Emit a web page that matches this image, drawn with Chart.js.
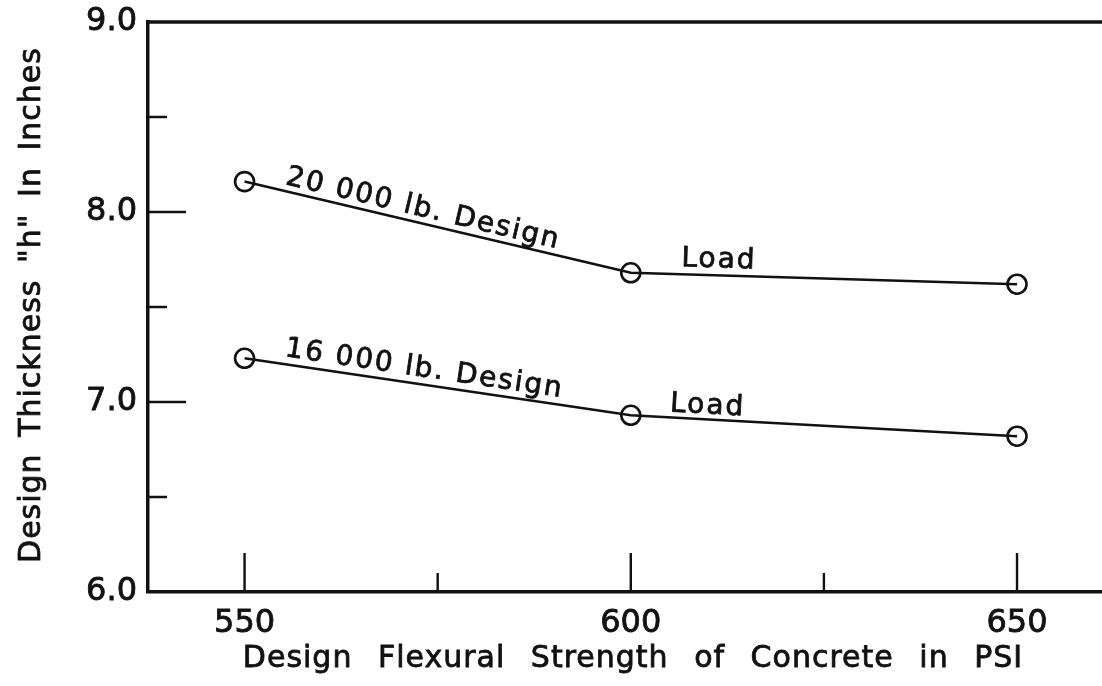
<!DOCTYPE html>
<html>
<head>
<meta charset="utf-8">
<script src="https://cdn.jsdelivr.net/npm/chart.js@4.4.0/dist/chart.umd.min.js"></script>
<style>
html, body { margin: 0; padding: 0; background: #fff; overflow: hidden; }
#wrap { width: 1102px; height: 686px; position: relative; }
#chart { display: block; }
</style>
</head>
<body>
<div id="wrap"><canvas id="chart"></canvas></div>
<script>
// data
var strengths = [550, 600, 650];
var thickness20k = [8.16, 7.68, 7.62];
var thickness16k = [7.23, 6.93, 6.82];
var labels20k = ['20 000 lb. Design', 'Load'];
var labels16k = ['16 000 lb. Design', 'Load'];

var xTicks = [550, 600, 650];
var xMinorTicks = [575, 625];
var yTicks = [6, 7, 8, 9];
var yInnerTicks = [7, 8];
var yMinorTicks = [6.5, 7.5, 8.5];

var xTitle = 'Design Flexural Strength of Concrete in PSI';
var yTitle = 'Design Thickness "h" In Inches';

var FONT = "'DejaVu Sans', sans-serif";
var INK = '#111';

function toPoints(xs, ys) {
    var pts = [];
    for (var i = 0; i < xs.length; i++) {
        pts.push({x: xs[i], y: ys[i]});
    }
    return pts;
}

function lineSet(label, values) {
    return {
        label: label,
        data: toPoints(strengths, values),
        showLine: true,
        borderColor: INK,
        borderWidth: 2.6,
        lineTension: 0,
        pointRadius: 9.5,
        pointBorderWidth: 2.6,
        pointBorderColor: INK,
        pointBackgroundColor: 'rgba(255,255,255,0)',
        clip: false
    };
}

// text along a segment of a series
function segLabel(ctx, xs, ys, values, i, text, frac, offset) {
    var x0 = xs.getPixelForValue(strengths[i]);
    var y0 = ys.getPixelForValue(values[i]);
    var x1 = xs.getPixelForValue(strengths[i + 1]);
    var y1 = ys.getPixelForValue(values[i + 1]);
    var ang = Math.atan2(y1 - y0, x1 - x0);
    ctx.save();
    ctx.translate(x0 + (x1 - x0) * frac, y0 + (y1 - y0) * frac);
    ctx.rotate(ang);
    ctx.fillText(text, 0, -offset);
    ctx.strokeText(text, 0, -offset);
    ctx.restore();
}

var decorations = {
    id: 'decorations',
    afterDraw: function (chart) {
        var ctx = chart.ctx;
        var a = chart.chartArea;
        var xs = chart.scales.x, ys = chart.scales.y;

        ctx.save();
        ctx.strokeStyle = INK;
        ctx.fillStyle = INK;

        // top frame line
        ctx.lineWidth = 3.5;
        ctx.beginPath();
        ctx.moveTo(a.left - 1.75, a.top);
        ctx.lineTo(a.right, a.top);
        ctx.stroke();

        // inward tick marks
        ctx.lineWidth = 2.4;
        ctx.beginPath();
        xTicks.forEach(function (v) {
            var x = xs.getPixelForValue(v);
            ctx.moveTo(x, a.bottom); ctx.lineTo(x, a.bottom - 39);
        });
        xMinorTicks.forEach(function (v) {
            var x = xs.getPixelForValue(v);
            ctx.moveTo(x, a.bottom); ctx.lineTo(x, a.bottom - 19);
        });
        yInnerTicks.forEach(function (v) {
            var y = ys.getPixelForValue(v);
            ctx.moveTo(a.left, y); ctx.lineTo(a.left + 38, y);
        });
        yMinorTicks.forEach(function (v) {
            var y = ys.getPixelForValue(v);
            ctx.moveTo(a.left, y); ctx.lineTo(a.left + 19, y);
        });
        ctx.stroke();

        // curve labels
        ctx.font = '28px ' + FONT;
        ctx.lineWidth = 0.8;
        ctx.textAlign = 'left';
        ctx.textBaseline = 'alphabetic';
        ctx.letterSpacing = '2px';
        segLabel(ctx, xs, ys, thickness20k, 0, labels20k[0], 0.1, 7);
        segLabel(ctx, xs, ys, thickness20k, 1, labels20k[1], 0.13, 8);
        segLabel(ctx, xs, ys, thickness16k, 0, labels16k[0], 0.1, 8);
        segLabel(ctx, xs, ys, thickness16k, 1, labels16k[1], 0.1, 6);

        // axis titles
        ctx.font = '30px ' + FONT;
        ctx.letterSpacing = '1px';
        ctx.wordSpacing = '15px';
        ctx.textAlign = 'center';
        ctx.fillText(xTitle, 633, 667);
        ctx.strokeText(xTitle, 633, 667);

        ctx.wordSpacing = '6px';
        ctx.translate(40, 305);
        ctx.rotate(-Math.PI / 2);
        ctx.fillText(yTitle, 0, 0);
        ctx.strokeText(yTitle, 0, 0);
        ctx.restore();
    }
};

var ctx = document.getElementById('chart');
var myChart = new Chart(ctx, {
    type: 'scatter',
    data: {
        datasets: [
            lineSet('20 000 lb. Design Load', thickness20k),
            lineSet('16 000 lb. Design Load', thickness16k)
        ]
    },
    options: {
        responsive: true,
        maintainAspectRatio: false,
        animation: false,
        layout: {
            autoPadding: false,
            padding: { top: 22, right: 0, left: 0, bottom: 0 }
        },
        plugins: {
            legend: { display: false },
            tooltip: { enabled: false }
        },
        scales: {
            x: {
                type: 'linear',
                min: 537.5,
                max: 661,
                afterBuildTicks: function (axis) {
                    axis.ticks = xTicks.map(function (v) { return {value: v}; });
                },
                afterFit: function (axis) {
                    axis.height = 94;
                    axis.paddingLeft = 0;
                    axis.paddingRight = 0;
                },
                grid: { display: false, drawTicks: false },
                border: { display: true, color: INK, width: 3.5 },
                ticks: {
                    color: INK,
                    padding: 12,
                    maxRotation: 0,
                    textStrokeColor: INK,
                    textStrokeWidth: 0.8,
                    font: { family: FONT, size: 32 }
                }
            },
            y: {
                type: 'linear',
                min: 6,
                max: 9,
                afterBuildTicks: function (axis) {
                    axis.ticks = yTicks.map(function (v) { return {value: v}; });
                },
                afterFit: function (axis) {
                    axis.width = 148;
                    axis.paddingTop = 0;
                    axis.paddingBottom = 0;
                },
                grid: { display: false, drawTicks: false },
                border: { display: true, color: INK, width: 3.5 },
                ticks: {
                    color: INK,
                    padding: 11,
                    textStrokeColor: INK,
                    textStrokeWidth: 0.8,
                    font: { family: FONT, size: 32 },
                    callback: function (v) { return Number(v).toFixed(1); }
                }
            }
        }
    },
    plugins: [decorations]
});
</script>
</body>
</html>
